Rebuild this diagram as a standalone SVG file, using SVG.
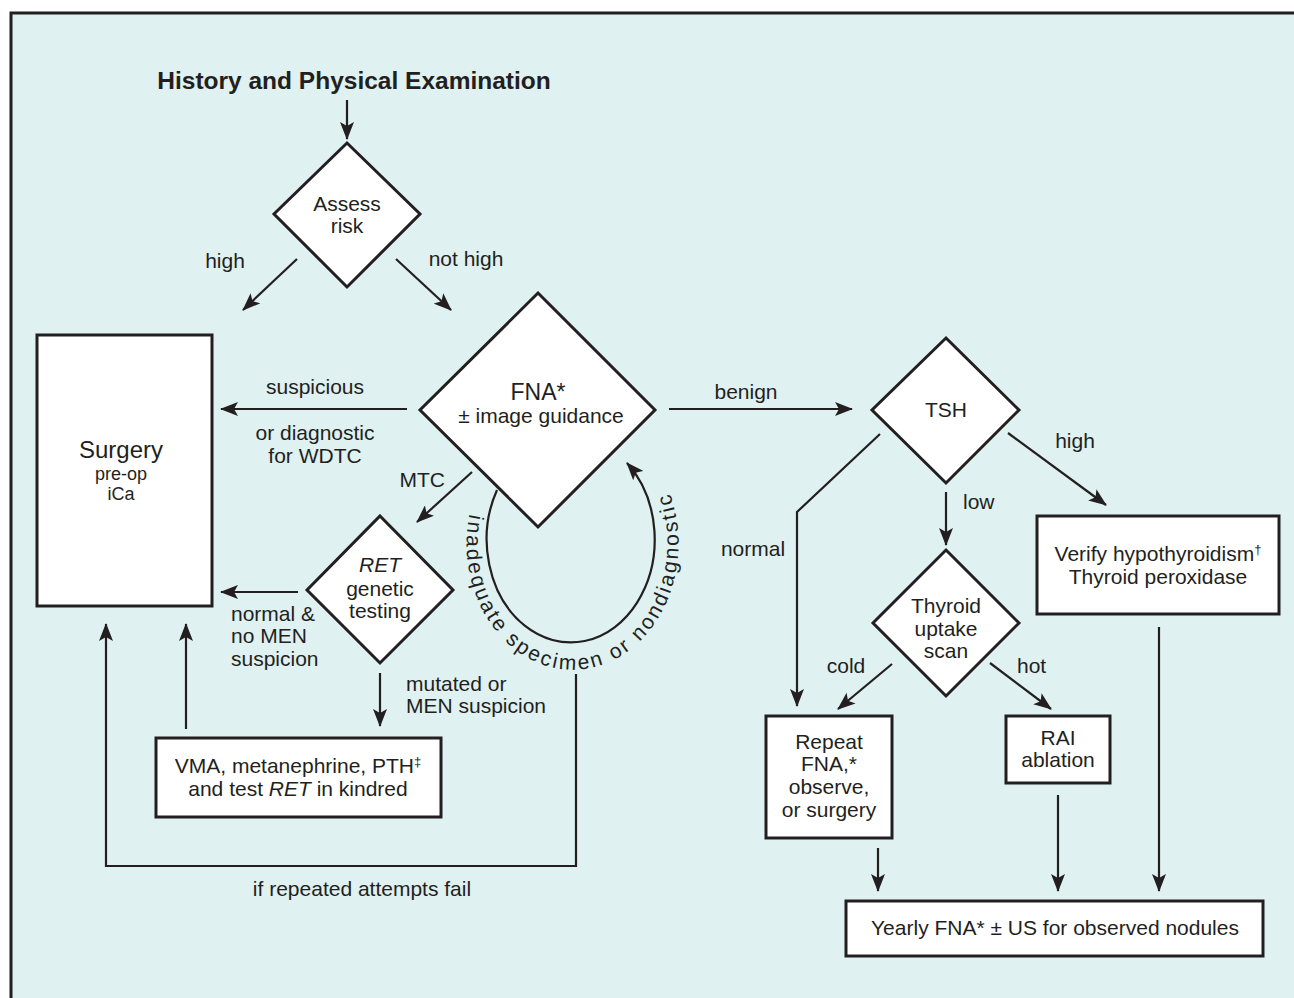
<svg xmlns="http://www.w3.org/2000/svg" xmlns:xlink="http://www.w3.org/1999/xlink" width="1294" height="998" viewBox="0 0 1294 998">
<style>
text{font-family:"Liberation Sans",Arial,sans-serif;fill:#231f20;font-size:21px}
.c{text-anchor:middle}
.e{text-anchor:end}
.shape{fill:#fff;stroke:#231f20;stroke-width:3}
.ln{fill:none;stroke:#231f20;stroke-width:2.2}
.sup{font-size:13px}
</style>
<defs>
<marker id="ah" markerUnits="userSpaceOnUse" viewBox="0 0 18 14" refX="17" refY="7" markerWidth="18" markerHeight="14" orient="auto">
<path d="M0,0 L18,7 L0,14 L4,7 z" fill="#231f20"/>
</marker>
<path id="arcText" d="M469.6,513.9 A106,126 0 1,0 663,478"/>
</defs>
<rect x="11" y="13" width="1300" height="1000" fill="#dff1f1" stroke="#231f20" stroke-width="3"/>

<g id="title"><text x="354" y="89" class="c" style="font-weight:bold;font-size:24.5px">History and Physical Examination</text></g>

<g id="connectors">
<line class="ln" x1="347" y1="100" x2="347" y2="139" marker-end="url(#ah)"/>
<line class="ln" x1="297" y1="259" x2="243" y2="310" marker-end="url(#ah)"/>
<line class="ln" x1="396" y1="259" x2="451" y2="310" marker-end="url(#ah)"/>
<line class="ln" x1="407" y1="409" x2="221" y2="409" marker-end="url(#ah)"/>
<line class="ln" x1="669" y1="409" x2="852" y2="409" marker-end="url(#ah)"/>
<line class="ln" x1="472" y1="472" x2="417" y2="522" marker-end="url(#ah)"/>
<line class="ln" x1="298" y1="592" x2="221" y2="592" marker-end="url(#ah)"/>
<line class="ln" x1="380" y1="673" x2="380" y2="726" marker-end="url(#ah)"/>
<line class="ln" x1="186" y1="729" x2="186" y2="624" marker-end="url(#ah)"/>
<polyline class="ln" points="576,674 576,866 106,866 106,624" marker-end="url(#ah)"/>
<path class="ln" d="M497,490 A84,103 0 1,0 627,463" marker-end="url(#ah)"/>
<polyline class="ln" points="880,434 797,512 797,706" marker-end="url(#ah)"/>
<line class="ln" x1="946" y1="492" x2="946" y2="545" marker-end="url(#ah)"/>
<line class="ln" x1="1008" y1="433" x2="1106" y2="505" marker-end="url(#ah)"/>
<line class="ln" x1="892" y1="664" x2="838" y2="709" marker-end="url(#ah)"/>
<line class="ln" x1="990" y1="663" x2="1051" y2="709" marker-end="url(#ah)"/>
<line class="ln" x1="878" y1="848" x2="878" y2="891" marker-end="url(#ah)"/>
<line class="ln" x1="1058" y1="795" x2="1058" y2="891" marker-end="url(#ah)"/>
<line class="ln" x1="1159" y1="627" x2="1159" y2="891" marker-end="url(#ah)"/>
</g>

<g id="edge-labels">
<text x="225" y="268" class="c">high</text>
<text x="466" y="266" class="c">not high</text>
<text x="315" y="394" class="c">suspicious</text>
<text x="315" y="440" class="c">or diagnostic</text>
<text x="315" y="463" class="c">for WDTC</text>
<text x="746" y="399" class="c">benign</text>
<text x="445" y="487" class="e">MTC</text>
<text x="231" y="621">normal &amp;</text>
<text x="231" y="643">no MEN</text>
<text x="231" y="666">suspicion</text>
<text x="406" y="691">mutated or</text>
<text x="406" y="713">MEN suspicion</text>
<text x="362" y="896" class="c">if repeated attempts fail</text>
<text><textPath href="#arcText" xlink:href="#arcText" textLength="446" lengthAdjust="spacing">inadequate specimen or nondiagnostic</textPath></text>
<text x="1075" y="448" class="c">high</text>
<text x="963" y="509">low</text>
<text x="753" y="556" class="c">normal</text>
<text x="846" y="673" class="c">cold</text>
<text x="1017" y="673">hot</text>
</g>

<g id="assess-risk">
<polygon class="shape" points="347,143 420,214 347,287 274,214"/>
<text x="347" y="211" class="c">Assess</text>
<text x="347" y="233" class="c">risk</text>
</g>

<g id="surgery">
<rect class="shape" x="37" y="335" width="175" height="271"/>
<text x="121" y="458" class="c" style="font-size:24px">Surgery</text>
<text x="121" y="480" class="c" style="font-size:18px">pre-op</text>
<text x="121" y="500" class="c" style="font-size:18px">iCa</text>
</g>

<g id="fna">
<polygon class="shape" points="538,293 655,410 538,527 420,410"/>
<text x="538" y="400" class="c" style="font-size:23px">FNA*</text>
<text x="541" y="423" class="c">± image guidance</text>
</g>

<g id="ret">
<polygon class="shape" points="380,516 453,590 380,663 307,590"/>
<text x="380" y="572" class="c" style="font-style:italic">RET</text>
<text x="380" y="596" class="c">genetic</text>
<text x="380" y="618" class="c">testing</text>
</g>

<g id="vma">
<rect class="shape" x="156" y="738" width="285" height="79"/>
<text x="298" y="773" class="c">VMA, metanephrine, PTH<tspan class="sup" dy="-7">‡</tspan></text>
<text x="298" y="796" class="c">and test <tspan style="font-style:italic">RET</tspan> in kindred</text>
</g>

<g id="tsh">
<polygon class="shape" points="946,338 1019,410 946,483 872,410"/>
<text x="946" y="417" class="c">TSH</text>
</g>

<g id="verify">
<rect class="shape" x="1037" y="516" width="242" height="98"/>
<text x="1158" y="561" class="c">Verify hypothyroidism<tspan class="sup" dy="-7">†</tspan></text>
<text x="1158" y="584" class="c">Thyroid peroxidase</text>
</g>

<g id="uptake">
<polygon class="shape" points="946,550 1019,623 946,696 873,623"/>
<text x="946" y="613" class="c">Thyroid</text>
<text x="946" y="636" class="c">uptake</text>
<text x="946" y="658" class="c">scan</text>
</g>

<g id="repeat">
<rect class="shape" x="766" y="716" width="126" height="122"/>
<text x="829" y="749" class="c">Repeat</text>
<text x="829" y="771" class="c">FNA,*</text>
<text x="829" y="794" class="c">observe,</text>
<text x="829" y="817" class="c">or surgery</text>
</g>

<g id="rai">
<rect class="shape" x="1006" y="716" width="104" height="67"/>
<text x="1058" y="745" class="c">RAI</text>
<text x="1058" y="767" class="c">ablation</text>
</g>

<g id="yearly">
<rect class="shape" x="846" y="901" width="417" height="55"/>
<text x="1055" y="935" class="c">Yearly FNA* ± US for observed nodules</text>
</g>
</svg>
